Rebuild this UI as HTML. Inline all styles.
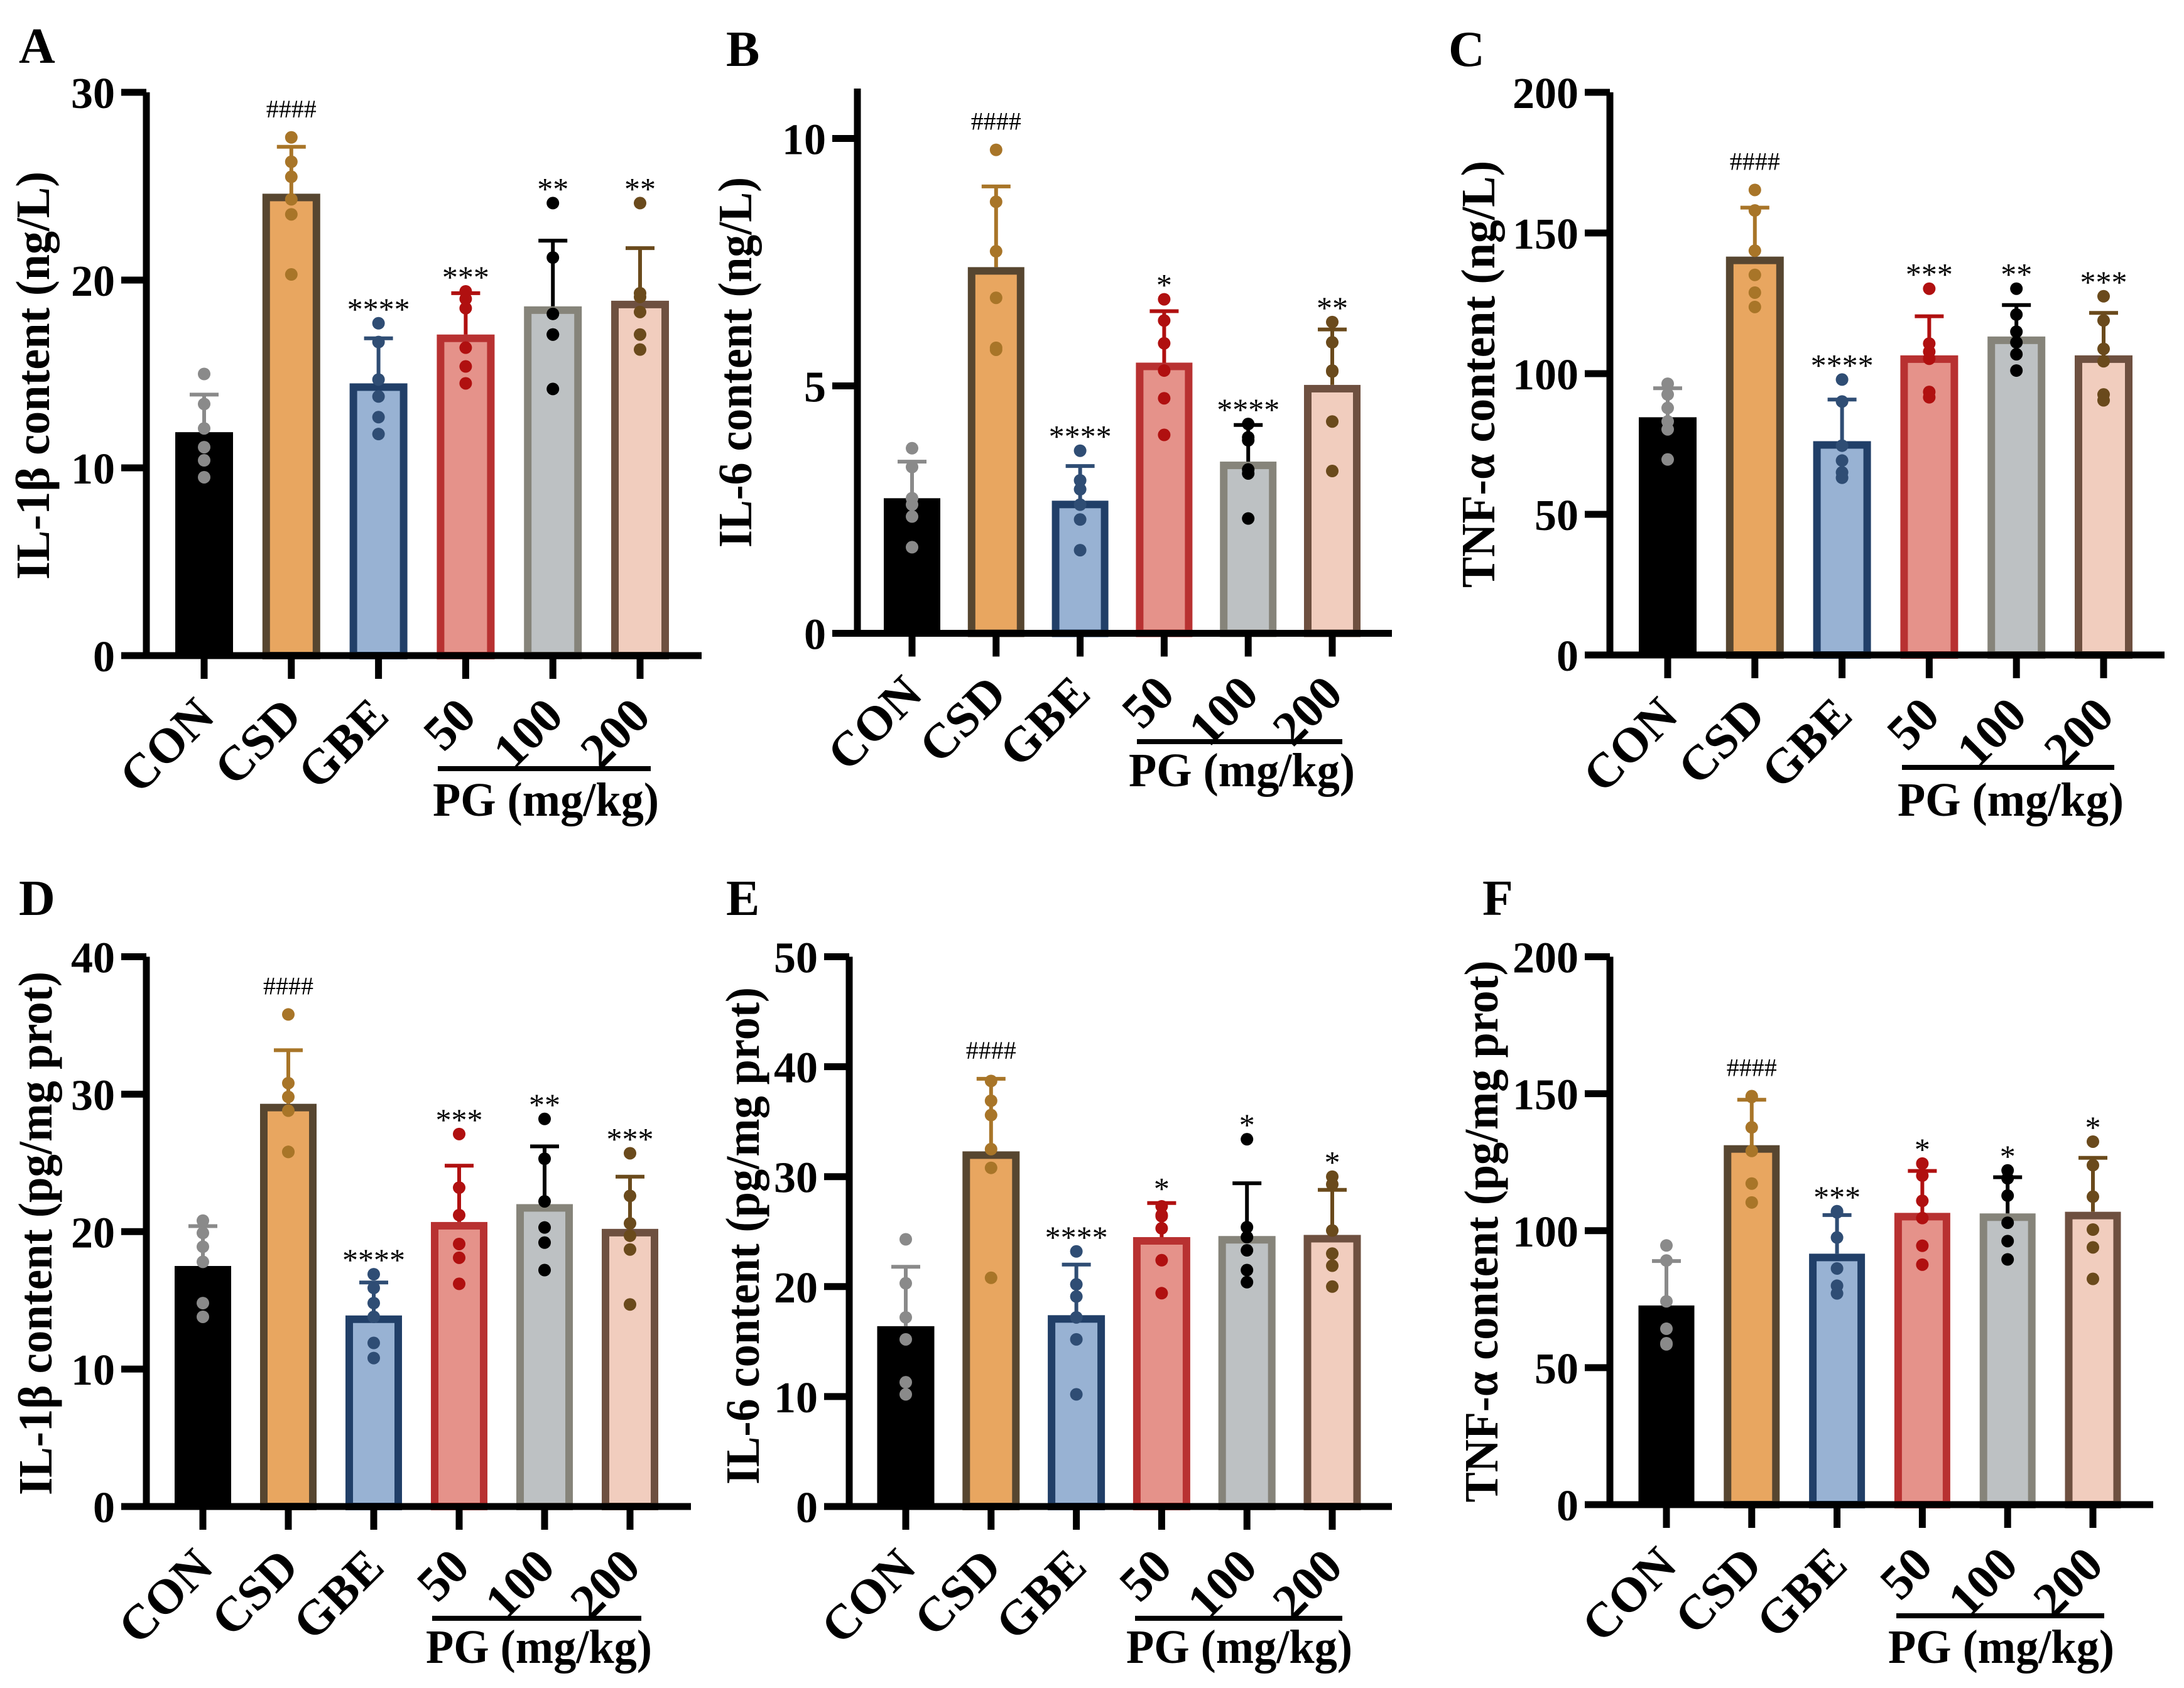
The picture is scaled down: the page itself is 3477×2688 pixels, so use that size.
<!DOCTYPE html>
<html><head><meta charset="utf-8"><style>
html,body{margin:0;padding:0;background:#fff}
svg{display:block}
text{font-family:"Liberation Serif",serif}
</style></head><body>
<svg id="fig" xmlns="http://www.w3.org/2000/svg" width="3477" height="2688" viewBox="0 0 3477 2688"></svg>
<script>
// ---------- data ----------
const categories = ["CON","CSD","GBE","50","100","200"];
// Panel A: IL-1β serum (ng/L)
const aBars=[11.9,24.6,14.5,17.1,18.6,18.9];
const aErr=[13.9,27.1,16.9,19.3,22.1,21.7];
const aPts=[[15.0,13.4,12.1,11.1,10.4,9.5],[27.6,26.3,25.5,24.3,23.5,20.3],[17.7,16.7,14.7,13.8,12.7,11.8],[19.4,19.0,18.5,16.4,15.4,14.5],[24.1,21.2,18.2,17.1,17.1,14.2],[24.1,19.3,19.1,18.3,17.1,16.3]];
const aSig=["","####","****","***","**","**"];
const aTicks=[0,10,20,30];
// Panel B: IL-6 serum (ng/L)
const bBars=[2.73,7.40,2.68,5.47,3.47,5.02];
const bErr=[3.47,9.03,3.38,6.51,4.21,6.14];
const bPts=[[3.74,3.36,2.73,2.6,2.36,1.74],[9.77,8.72,7.72,6.78,5.77,5.73],[3.69,3.09,2.91,2.6,2.3,1.68],[6.75,6.32,5.86,5.31,4.75,4.01],[4.23,3.96,3.9,3.31,3.23,2.32],[6.29,5.88,5.31,5.29,4.28,3.28]];
const bSig=["","####","****","*","****","**"];
const bTicks=[0,5,10];
// Panel C: TNF-α serum (ng/L)
const cBars=[84.5,141.6,76.0,106.5,113.2,106.5];
const cErr=[94.8,159.0,90.8,120.4,124.4,121.6];
const cPts=[[96.4,92.6,87.8,83.0,80.2,69.5],[165.3,158.0,143.7,135.1,128.8,123.7],[97.9,90.1,74.4,69.1,64.9,63.0],[130.2,110.7,107.8,105.3,93.5,91.6],[130.2,121.0,114.9,111.1,106.9,101.1],[127.5,118.9,108.8,104.4,92.6,90.5]];
const cSig=["","####","****","***","**","***"];
const cTicks=[0,50,100,150,200];
// Panel D: IL-1β tissue (pg/mg prot)
const dBars=[17.5,29.3,13.9,20.7,22.0,20.2];
const dErr=[20.4,33.2,16.3,24.8,26.2,24.0];
const dPts=[[20.8,19.9,18.9,17.8,14.8,13.8],[35.8,30.8,29.8,28.8,25.8,25.8],[16.9,15.9,14.8,13.8,11.9,10.8],[27.1,23.2,21.2,19.1,18.1,16.2],[28.2,25.3,22.2,20.3,19.2,17.2],[25.7,22.6,20.6,19.7,18.7,14.7]];
const dSig=["","####","****","***","**","***"];
const dTicks=[0,10,20,30,40];
// Panel E: IL-6 tissue (pg/mg prot)
const eBars=[16.4,32.3,17.4,24.5,24.6,24.7];
const eErr=[21.8,38.9,22.0,27.6,29.4,28.8];
const ePts=[[24.3,20.3,17.2,15.2,11.3,10.2],[38.7,36.9,35.6,32.5,30.8,20.8],[23.2,20.2,19.1,17.2,15.2,10.2],[27.3,26.5,26.4,25.3,22.4,19.4],[33.4,25.4,24.5,23.3,21.5,20.4],[30.0,29.3,25.1,23.0,21.9,20.0]];
const eSig=["","####","****","*","*","*"];
const eTicks=[0,10,20,30,40,50];
// Panel F: TNF-α tissue (pg/mg prot)
const fBars=[72.7,131.2,91.6,106.5,106.3,106.9];
const fErr=[88.9,147.8,105.7,121.8,119.5,126.6];
const fPts=[[94.6,89.1,74.2,64.2,58.9,58.5],[149.1,148.8,137.7,129.1,117.2,110.3],[107.1,106.7,97.5,86.2,79.9,77.1],[124.5,120.1,110.9,104.6,94.5,87.6],[122.0,119.1,112.8,102.9,96.2,89.5],[132.5,123.9,112.4,100.4,93.9,82.4]];
const fSig=["","####","***","*","*","*"];
const fTicks=[0,50,100,150,200];

// ---------- styling ----------
const fills=["#000000","#E8A660","#98B2D3","#E5928A","#BDC1C3","#F1CDBE"];
const strokes=["#000000","#574630","#213F68","#B83131","#86847A","#6E5040"];
const dotCol=["#8A8A8A","#A87528","#2F4D74","#B01010","#000000","#6A4A1C"];

const NS="http://www.w3.org/2000/svg";
const svg=document.getElementById("fig");
function mk(tag,attrs,parent){const e=document.createElementNS(NS,tag);for(const k in attrs)e.setAttribute(k,attrs[k]);(parent||svg).appendChild(e);return e;}

function panel(g){
  const grp=mk("g",{});
  
  
  const y=v=>g.zero-(v/g.vmax)*(g.zero-g.top);
  const x0=g.cx0, step=g.step;
  const cx=i=>x0+i*step;
  const L=mk("text",{x:g.lx,y:g.ly,"font-size":80,"font-weight":"bold"},grp);L.textContent=g.letter;
  
  
  for(let i=0;i<6;i++){
    const top=y(g.bars[i]);const sw=i===0?0:12;
    const r=mk("rect",{x:cx(i)-g.bw/2+sw/2,y:top+sw/2,width:g.bw-sw,height:g.zero-top-sw/2,fill:fills[i],stroke:strokes[i],"stroke-width":sw},grp);
    
    
  }
  for(let i=0;i<6;i++){
    const c=dotCol[i];const yt=y(g.bars[i]),ye=y(g.err[i]);
    const eb=mk("path",{d:`M${cx(i)} ${yt}V${ye}M${cx(i)-23} ${ye}H${cx(i)+23}`,stroke:c,"stroke-width":6,fill:"none"},grp);
    
    
    let maxv=g.err[i];
    g.pts[i].forEach(v=>{maxv=Math.max(maxv,v);
      const d=mk("circle",{cx:cx(i),cy:y(v),r:10,fill:c},grp);
      
      });
    if(g.sig[i]){
      const hash=g.sig[i][0]==="#";
      const t=mk("text",{x:cx(i),y:y(maxv)-(hash?32:6),"font-size":hash?40:50,"text-anchor":"middle"},grp);
      t.textContent=g.sig[i];
      
      
    }
  }
  const ax=mk("path",{d:`M${g.ax} ${g.axTop}V${g.zero}M${g.ax-40} ${g.zero}H${g.xend}`,stroke:"#000","stroke-width":11,fill:"none"},grp);
  
  
  g.ticks.forEach(v=>{
    mk("path",{d:`M${g.ax-40} ${y(v)}H${g.ax}`,stroke:"#000","stroke-width":11},grp);
    const t=mk("text",{x:g.ax-50,y:y(v)+25,"font-size":70,"font-weight":"bold","text-anchor":"end"},grp);
    t.textContent=v;
    
    
  });
  for(let i=0;i<6;i++){
    mk("path",{d:`M${cx(i)} ${g.zero}V${g.zero+37}`,stroke:"#000","stroke-width":11},grp);
    const t=mk("text",{x:0,y:0,"font-size":78,"font-weight":"bold","text-anchor":"end",transform:`translate(${cx(i)+20},${g.zero+100}) rotate(-45)`},grp);
    t.textContent=categories[i];
    
    
  }
  mk("path",{d:`M${g.ulx1} ${g.uly}H${g.ulx2}`,stroke:"#000","stroke-width":8},grp);
  const pg=mk("text",{x:g.pgx,y:g.pgy,"font-size":76,"font-weight":"bold","text-anchor":"middle",textLength:360,lengthAdjust:"spacingAndGlyphs"},grp);
  pg.textContent="PG (mg/kg)";
  
  
  const yt=mk("text",{x:0,y:0,"font-size":76,"font-weight":"bold","text-anchor":"middle",textLength:g.tlen,lengthAdjust:"spacingAndGlyphs",transform:`translate(${g.tx-8},${g.ty}) rotate(-90)`},grp);
  yt.textContent=g.title;
  
  
}

panel({letter:"A",lx:30,ly:100,bars:aBars,err:aErr,pts:aPts,sig:aSig,ticks:aTicks,vmax:30,top:147,axTop:147,zero:1044,ax:233,xend:1117,cx0:325,step:138.8,bw:92,ulx1:697,ulx2:1036,uly:1224,pgx:869,pgy:1299,tx:86,ty:598,tlen:650,title:"IL-1β content (ng/L)"});
panel({letter:"B",lx:1156,ly:105,bars:bBars,err:bErr,pts:bPts,sig:bSig,ticks:bTicks,vmax:10,top:220.5,axTop:141,zero:1008.5,ax:1365,xend:2216,cx0:1452,step:133.8,bw:90,ulx1:1810,ulx2:2137,uly:1181,pgx:1977,pgy:1252,tx:1204,ty:577,tlen:590,title:"IL-6 content (ng/L)"});
panel({letter:"C",lx:2306,ly:105,bars:cBars,err:cErr,pts:cPts,sig:cSig,ticks:cTicks,vmax:200,top:147,axTop:147,zero:1043,ax:2563,xend:3446,cx0:2655,step:138.8,bw:92,ulx1:3028,ulx2:3366,uly:1222,pgx:3201,pgy:1299,tx:2387,ty:596,tlen:680,title:"TNF-α content (ng/L)"});
panel({letter:"D",lx:30,ly:1457,bars:dBars,err:dErr,pts:dPts,sig:dSig,ticks:dTicks,vmax:40,top:1523.5,axTop:1523.5,zero:2399,ax:233,xend:1100,cx0:323,step:136,bw:90,ulx1:688,ulx2:1021,uly:2577,pgx:858,pgy:2648,tx:90,ty:1964,tlen:834,title:"IL-1β content (pg/mg prot)"});
panel({letter:"E",lx:1156,ly:1457,bars:eBars,err:eErr,pts:ePts,sig:eSig,ticks:eTicks,vmax:50,top:1523.5,axTop:1523.5,zero:2399,ax:1352,xend:2216,cx0:1442,step:135.8,bw:91,ulx1:1807,ulx2:2137,uly:2577,pgx:1973,pgy:2648,tx:1216,ty:1968,tlen:792,title:"IL-6 content (pg/mg prot)"});
panel({letter:"F",lx:2360,ly:1457,bars:fBars,err:fErr,pts:fPts,sig:fSig,ticks:fTicks,vmax:200,top:1523.5,axTop:1523.5,zero:2396,ax:2563,xend:3428,cx0:2653,step:135.8,bw:89,ulx1:3019,ulx2:3350,uly:2573,pgx:3186,pgy:2648,tx:2392,ty:1961,tlen:863,title:"TNF-α content (pg/mg prot)"});
</script>
</body></html>
